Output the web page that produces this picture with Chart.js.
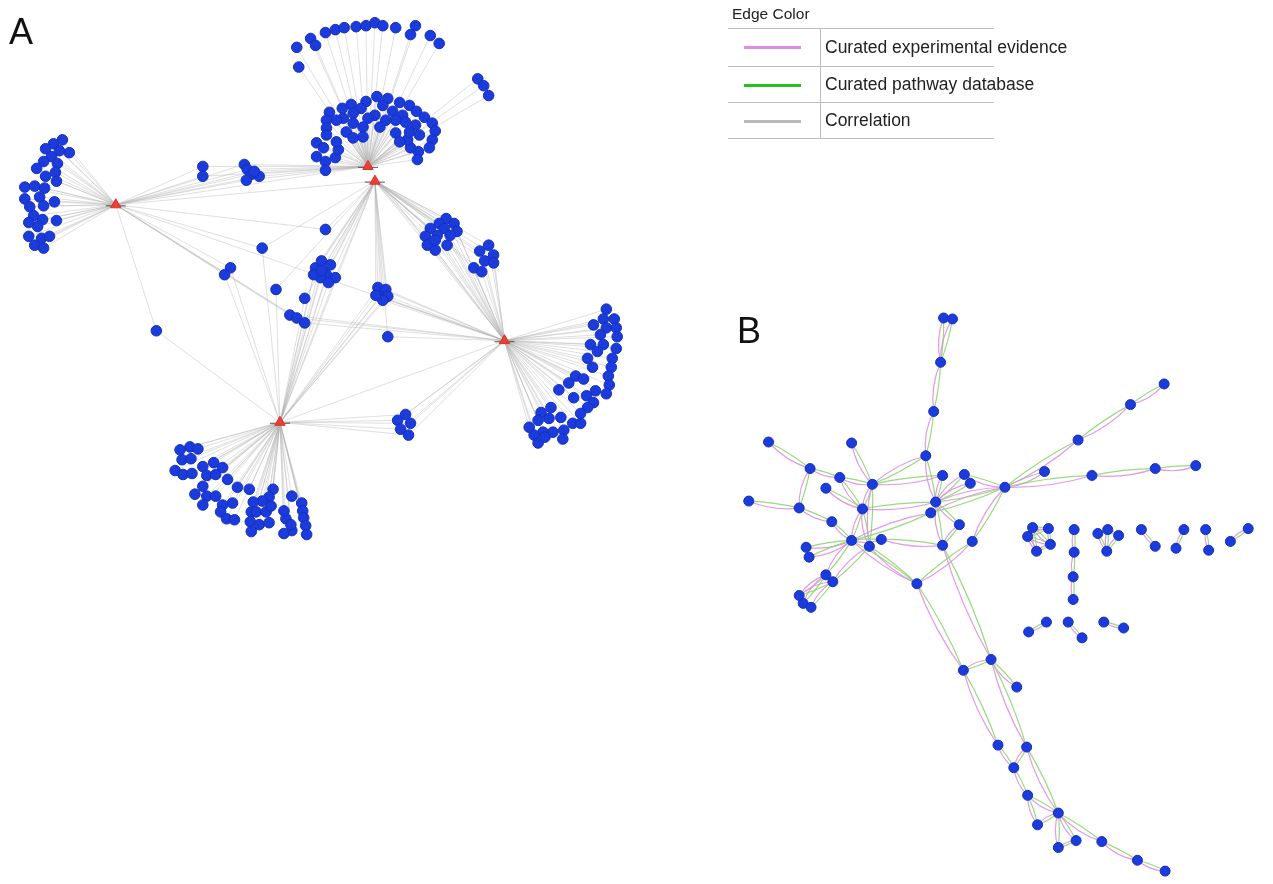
<!DOCTYPE html>
<html>
<head>
<meta charset="utf-8">
<script src="https://cdn.jsdelivr.net/npm/chart.js@4/dist/chart.umd.min.js"></script>
<style>
  html, body { margin: 0; padding: 0; background: #fff; overflow: hidden; }
  #wrap { position: relative; width: 1273px; height: 884px; }
  canvas { position: absolute; left: 0; top: 0; }
  .panel { position: absolute; font-family: "Liberation Sans", Arial, sans-serif; font-size: 36px; color: #111; line-height: 1; }
  .lg { position: absolute; font-family: "Liberation Sans", Arial, sans-serif; font-size: 17.5px; color: #222; line-height: 1; white-space: nowrap; }
  .rule { position: absolute; background: #bdbdbd; }
  .swatch { position: absolute; height: 3px; }
</style>
</head>
<body>
<div id="wrap">
  <canvas id="net" width="1273" height="884"></canvas>
  <div class="panel" style="left:9px; top:14px;">A</div>
  <div class="panel" style="left:737px; top:313px;">B</div>

  <div class="lg" style="left:732px; top:6px; font-size:15.5px;">Edge Color</div>
  <div class="rule" style="left:728px; top:28px; width:266px; height:1px;"></div>
  <div class="rule" style="left:728px; top:66px; width:266px; height:1px;"></div>
  <div class="rule" style="left:728px; top:102px; width:266px; height:1px;"></div>
  <div class="rule" style="left:728px; top:138px; width:266px; height:1px;"></div>
  <div class="rule" style="left:820px; top:28px; width:1px; height:110px;"></div>
  <div class="swatch" style="left:744px; top:46px; width:57px; background:#e48ae6;"></div>
  <div class="swatch" style="left:744px; top:84px; width:57px; background:#1fc51a;"></div>
  <div class="swatch" style="left:744px; top:120px; width:57px; background:#b9b9b9;"></div>
  <div class="lg" style="left:825px; top:39px;">Curated experimental evidence</div>
  <div class="lg" style="left:825px; top:76px;">Curated pathway database</div>
  <div class="lg" style="left:825px; top:112px;">Correlation</div>
</div>
<script>
// ---------- Network A: correlation network ----------
// hub genes (red triangles)
const hubsA = [[110,201],[365,162],[372,177],[503,339],[276,422]];
// hub-to-hub correlation edges
const hubEdgesA = [[0,2],[0,3],[2,4],[4,3],[1,3],[0,1]];

// node groups and the hubs each group correlates with
const nodesTopArc = [[293,41],[295,61],[307,32],[312,39],[322,26],[332,23],[341,21],[353,20],[363,19],[372,16],[380,19],[393,21],[413,19],[408,28],[428,29],[437,37],[476,73],[482,80],[487,90]];
const linksTopArc = [1];
const nodesTopCore = [[374,91],[385,93],[397,97],[407,100],[363,96],[348,99],[339,103],[326,107],[358,103],[380,100],[390,106],[414,106],[422,112],[430,118],[433,126],[430,135],[427,143],[416,147],[415,155],[408,143],[405,135],[417,130],[413,120],[400,110],[393,115],[403,117],[383,115],[372,110],[365,113],[350,108],[340,113],[333,115],[323,115],[323,123],[323,130],[313,138],[320,143],[313,152],[322,157],[332,153],[335,145],[333,137],[343,127],[350,118],[360,122],[350,133],[360,132],[377,122],[393,128],[397,137],[407,127],[322,166]];
const linksTopCore = [1];
const nodesLeft = [[56,135],[47,139],[39,144],[53,146],[63,148],[45,152],[37,157],[51,159],[30,164],[49,168],[39,172],[50,177],[18,183],[28,182],[38,184],[33,193],[18,195],[48,198],[23,203],[37,202],[27,212],[36,216],[50,217],[22,219],[31,223],[22,233],[35,235],[43,233],[28,242],[37,245]];
const linksLeft = [0];
const nodesRight = [[606,307],[603,317],[614,317],[593,323],[606,326],[616,326],[600,333],[617,335],[590,343],[603,343],[597,350],[616,347],[587,357],[612,357],[592,366],[611,366],[575,375],[583,378],[568,382],[608,375],[609,384],[558,389],[595,390],[586,395],[606,393],[573,397],[593,402],[587,407],[550,407],[540,412],[580,413],[548,418],[560,417],[537,420],[528,427],[572,423],[580,423],[542,432],[552,432],[563,430],[533,435],[562,439],[537,443],[544,437]];
const linksRight = [3];
const nodesBottom = [[175,450],[185,447],[193,449],[177,460],[186,459],[170,471],[178,475],[187,474],[198,467],[209,463],[218,468],[202,476],[211,475],[223,480],[198,487],[190,495],[202,497],[211,497],[233,488],[245,490],[269,490],[265,498],[258,502],[249,503],[198,506],[218,506],[228,504],[216,513],[222,520],[230,521],[247,513],[252,513],[262,513],[267,507],[288,497],[298,504],[299,512],[300,519],[302,527],[303,536],[288,532],[280,535],[282,520],[287,526],[246,523],[255,526],[265,524],[247,533],[280,512]];
const linksBottom = [4];
const nodesPairW = [[198,162],[198,172]];
const linksPairW = [0,1];
const nodesClusterW = [[240,160],[243,165],[247,170],[255,172],[242,176],[250,167]];
const linksClusterW = [0,1];
const nodesClusterE = [[444,215],[437,220],[452,220],[428,225],[442,225],[455,228],[423,233],[435,232],[448,232],[425,242],[433,247],[445,242],[433,237]];
const linksClusterE = [2,3];
const nodesClusterFarE = [[487,242],[478,248],[492,252],[483,258],[492,260],[472,265],[480,269]];
const linksClusterFarE = [2,3];
const nodesClusterC = [[312,265],[318,258],[327,262],[323,272],[317,275],[332,275],[325,280],[310,272],[318,268]];
const linksClusterC = [2,4];
const nodesClusterS = [[375,285],[383,287],[378,294],[385,294],[380,298],[373,293]];
const linksClusterS = [2,3,4];
const nodesClusterLow = [[403,414],[395,420],[408,423],[398,429],[406,435]];
const linksClusterLow = [4,3];
const nodesMidN = [[322,226]];
const linksMidN = [0,2];
const nodesMidW = [[258,245]];
const linksMidW = [0,2,4];
const nodesMidPair = [[226,265],[220,272]];
const linksMidPair = [0,4];
const nodesMidS = [[272,287],[301,296]];
const linksMidS = [2,4];
const nodesMidTrio = [[286,313],[293,316],[301,321]];
const linksMidTrio = [0,3];
const nodesFarW = [[151,329]];
const linksFarW = [0,4];
const nodesMidE = [[385,335]];
const linksMidE = [2,3];

// ---------- Network B: curated interaction network ----------
const nodesB = [
  [947,316],[956,317],[944,361],[937,411],[929,456],[770,442],[854,443],[812,469],[842,478],[875,485],
  [946,476],[968,475],[974,484],[1009,488],[828,489],[750,502],[801,509],[865,510],[939,503],[934,514],
  [834,523],[963,526],[854,542],[884,541],[872,548],[946,547],[976,543],[808,549],[811,559],[828,577],
  [835,584],[920,586],[801,598],[805,606],[813,610],[1049,472],[1083,440],[1136,404],[1170,383],[1097,476],
  [1161,469],[1202,466],[995,663],[967,674],[1021,691],[1002,750],[1031,752],[1018,773],[1032,801],[1063,819],
  [1042,831],[1081,847],[1063,854],[1107,848],[1143,867],[1171,878],[1037,529],[1053,530],[1032,538],[1055,546],
  [1041,553],[1079,531],[1079,554],[1078,579],[1078,602],[1113,531],[1103,535],[1124,537],[1112,553],[1147,531],
  [1161,548],[1190,531],[1182,550],[1212,531],[1215,552],[1255,530],[1237,543],[1033,635],[1051,625],[1073,625],
  [1087,641],[1109,625],[1129,631]
];
const edgesB = [
  [0,2],[1,2],[2,3],[3,4],[4,9],[4,18],[5,7],[6,9],[7,8],[7,16],[8,9],[8,17],[9,17],[9,10],[14,17],
  [15,16],[16,20],[20,22],[17,22],[17,24],[9,24],[17,18],[10,18],[11,18],[12,18],[11,13],[13,18],[13,19],
  [13,26],[18,21],[21,25],[18,25],[19,22],[22,23],[23,25],[24,31],[22,31],[31,26],[27,22],[28,22],[22,29],
  [24,30],[29,32],[29,33],[30,34],[30,32],[29,30],[13,35],[13,36],[36,37],[37,38],[13,39],[39,40],[40,41],
  [31,43],[25,42],[42,43],[42,44],[43,45],[42,46],[45,47],[46,47],[47,48],[48,49],[46,49],[49,50],[48,50],
  [49,51],[49,52],[51,52],[49,53],[53,54],[54,55],
  [56,57],[56,58],[57,59],[58,60],[59,60],[56,59],[57,58],[58,59],[56,60],
  [61,62],[62,63],[63,64],[65,66],[65,67],[66,68],[67,68],[65,68],
  [69,70],[71,72],[73,74],[75,76],[77,78],[79,80],[81,82]
];

// group table for network A, built from the named arrays above
const groupsA = [
  [nodesTopArc, linksTopArc], [nodesTopCore, linksTopCore], [nodesLeft, linksLeft],
  [nodesRight, linksRight], [nodesBottom, linksBottom], [nodesPairW, linksPairW],
  [nodesClusterW, linksClusterW], [nodesClusterE, linksClusterE], [nodesClusterFarE, linksClusterFarE],
  [nodesClusterC, linksClusterC], [nodesClusterS, linksClusterS], [nodesClusterLow, linksClusterLow],
  [nodesMidN, linksMidN], [nodesMidW, linksMidW], [nodesMidPair, linksMidPair], [nodesMidS, linksMidS],
  [nodesMidTrio, linksMidTrio], [nodesFarW, linksFarW], [nodesMidE, linksMidE]
];

const toXY = p => ({ x: p[0], y: p[1] });
const nodesAll = groupsA.flatMap(g => g[0]);

// draws network edges underneath the node markers, positioned via the chart scales
const edgePlugin = {
  id: 'edges',
  beforeDatasetsDraw(chart) {
    const { ctx, scales } = chart;
    const px = p => [scales.x.getPixelForValue(p[0]), scales.y.getPixelForValue(p[1])];
    ctx.save();
    // correlation edges (gray)
    ctx.strokeStyle = 'rgba(175,175,175,0.45)';
    ctx.lineWidth = 0.9;
    ctx.beginPath();
    groupsA.forEach(([nodes, links]) => {
      nodes.forEach(n => {
        links.forEach(h => {
          const a = px(n), b = px(hubsA[h]);
          ctx.moveTo(a[0], a[1]); ctx.lineTo(b[0], b[1]);
        });
      });
    });
    hubEdgesA.forEach(([i, j]) => {
      const a = px(hubsA[i]), b = px(hubsA[j]);
      ctx.moveTo(a[0], a[1]); ctx.lineTo(b[0], b[1]);
    });
    ctx.stroke();
    // short dark dash through each hub marker
    ctx.strokeStyle = 'rgba(70,80,70,0.8)';
    ctx.lineWidth = 1.2;
    hubsA.forEach(h => {
      const a = px(h);
      ctx.beginPath(); ctx.moveTo(a[0] - 10, a[1] + 1); ctx.lineTo(a[0] + 10, a[1] + 1); ctx.stroke();
    });
    // curated edges: paired pink / green arcs
    const arc = (a, b, off, color) => {
      const mx = (a[0] + b[0]) / 2, my = (a[1] + b[1]) / 2;
      const dx = b[0] - a[0], dy = b[1] - a[1];
      const len = Math.hypot(dx, dy) || 1;
      const nx = -dy / len, ny = dx / len;
      const k = Math.min(off, off * len / 40);
      ctx.strokeStyle = color;
      ctx.beginPath();
      ctx.moveTo(a[0], a[1]);
      ctx.quadraticCurveTo(mx + nx * k, my + ny * k, b[0], b[1]);
      ctx.stroke();
    };
    ctx.lineWidth = 1.2;
    edgesB.forEach(([i, j]) => {
      const a = px(nodesB[i]), b = px(nodesB[j]);
      arc(a, b, 7, 'rgba(226,140,230,0.9)');
      arc(a, b, -2, 'rgba(140,215,110,0.9)');
    });
    ctx.restore();
  }
};

new Chart(document.getElementById('net'), {
  type: 'scatter',
  data: {
    datasets: [
      {
        label: 'genes A',
        data: nodesAll.map(toXY),
        pointRadius: 5.3,
        backgroundColor: '#1b3bdc',
        borderColor: '#1530b8',
        borderWidth: 1,
        clip: false
      },
      {
        label: 'genes B',
        data: nodesB.map(toXY),
        pointRadius: 5,
        backgroundColor: '#1b3bdc',
        borderColor: '#1530b8',
        borderWidth: 1,
        clip: false
      },
      {
        label: 'hubs',
        data: hubsA.map(toXY),
        pointStyle: 'triangle',
        pointRadius: 6,
        backgroundColor: '#ec3d36',
        borderColor: '#d83028',
        borderWidth: 1,
        clip: false
      }
    ]
  },
  options: {
    responsive: false,
    animation: false,
    events: [],
    layout: { padding: 0 },
    plugins: { legend: { display: false }, tooltip: { enabled: false } },
    scales: {
      x: { type: 'linear', min: 0, max: 1273, display: false },
      y: { type: 'linear', min: 0, max: 884, reverse: true, display: false }
    }
  },
  plugins: [edgePlugin]
});
</script>
</body>
</html>
